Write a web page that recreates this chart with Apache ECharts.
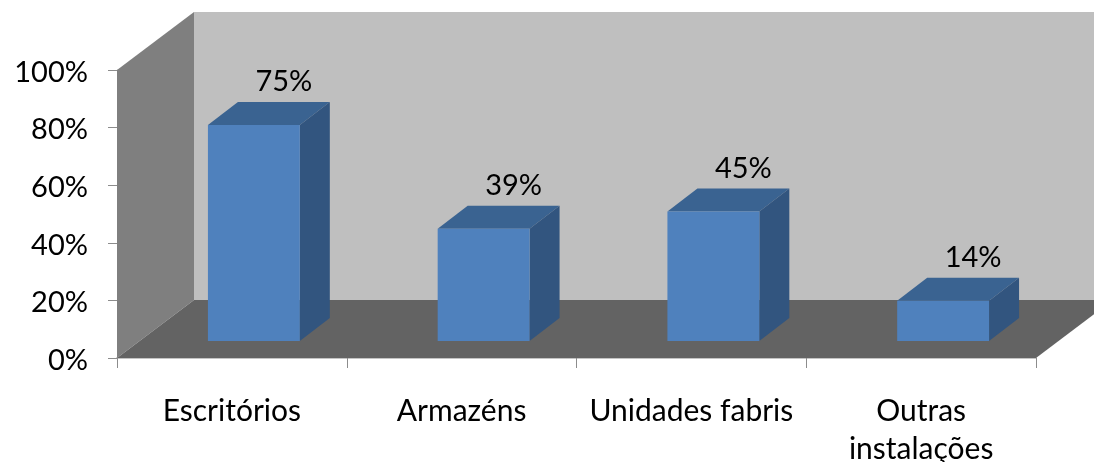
<!DOCTYPE html>
<html>
<head>
<meta charset="utf-8">
<style>html,body{margin:0;padding:0;background:#fff}#c{width:1094px;height:462px}</style>
<script src="https://cdn.jsdelivr.net/npm/echarts@6/dist/echarts.min.js"></script>
</head>
<body>
<div id="c"></div>
<script>
const categories = ['Escritórios', 'Armazéns', 'Unidades fabris', 'Outras\ninstalações'];
const values = [75, 39, 45, 14];

const FONT = 'Lato';
const DX = 77, DY = 58;              // depth of the chart box
const BAR_DX = 30, BAR_DY = 23;      // depth of each bar
const SHIFT_X = 22, SHIFT_Y = 17;    // where the bar sits on the floor

const chart = echarts.init(document.getElementById('c'), null, {renderer: 'canvas'});

function poly(points, fill, extra) {
  return Object.assign({type: 'polygon', shape: {points}, style: {fill}, silent: true}, extra || {});
}

chart.setOption({
  animation: false,
  grid: {left: 117, right: 58, top: 70, bottom: 104, containLabel: false, outerBoundsMode: 'none'},
  xAxis: {
    type: 'category',
    data: categories,
    boundaryGap: true,
    axisLine: {show: true, lineStyle: {color: '#c4c4c4', width: 2}},
    axisTick: {show: true, length: 10, lineStyle: {color: '#8c8c8c', width: 1}},
    axisLabel: {color: '#000', fontFamily: FONT, fontSize: 30, lineHeight: 38, margin: 34, interval: 0, verticalAlign: 'top'},
    splitLine: {show: false}
  },
  yAxis: {
    type: 'value',
    min: 0, max: 100, interval: 20,
    axisLine: {show: true, lineStyle: {color: '#b5b5b5', width: 1}},
    axisTick: {show: true, length: 9, lineStyle: {color: '#8c8c8c', width: 1}},
    axisLabel: {color: '#000', fontFamily: FONT, fontSize: 29, margin: 29, verticalAlign: 'top', padding: [-12, 0, 0, 0], formatter: '{value}%'},
    splitLine: {show: false}
  },
  series: [
    {
      type: 'custom',
      coordinateSystem: 'cartesian2d',
      z: 1,
      data: [0],
      silent: true,
      renderItem(params, api) {
        const g = params.coordSys;
        const L = g.x, R = g.x + g.width, T = g.y, B = g.y + g.height;
        return {
          type: 'group',
          children: [
            poly([[L + DX, T - DY], [R + DX, T - DY], [R + DX, B - DY], [L + DX, B - DY]], '#bfbfbf'),
            poly([[L, T], [L + DX, T - DY], [L + DX, B - DY], [L, B]], '#7f7f7f'),
            poly([[L, B], [L + DX, B - DY], [R + DX, B - DY], [R, B]], '#636363')
          ]
        };
      }
    },
    {
      type: 'custom',
      coordinateSystem: 'cartesian2d',
      z: 2,
      silent: true,
      data: values.map((v, i) => [i, v]),
      encode: {x: 0, y: 1},
      renderItem(params, api) {
        const i = api.value(0), v = api.value(1);
        const top = api.coord([i, v]);
        const base = api.coord([i, 0]);
        const w = api.size([1, 0])[0] * 0.4;
        const cx = top[0] + SHIFT_X;
        const l = cx - w / 2, r = cx + w / 2;
        const t = top[1] - SHIFT_Y, b = base[1] - SHIFT_Y;
        return {
          type: 'group',
          children: [
            poly([[l, t], [l + BAR_DX, t - BAR_DY], [r + BAR_DX, t - BAR_DY], [r, t]], '#3a6391'),
            poly([[r, t], [r + BAR_DX, t - BAR_DY], [r + BAR_DX, b - BAR_DY], [r, b]], '#32557f'),
            poly([[l, t], [r, t], [r, b], [l, b]], '#4f81bd'),
            {
              type: 'text',
              silent: true,
              style: {
                x: cx + BAR_DX, y: t - 43,
                text: v + '%',
                fill: '#000', font: '29px ' + FONT,
                align: 'center', verticalAlign: 'middle'
              }
            }
          ]
        };
      }
    }
  ]
});
</script>
</body>
</html>
